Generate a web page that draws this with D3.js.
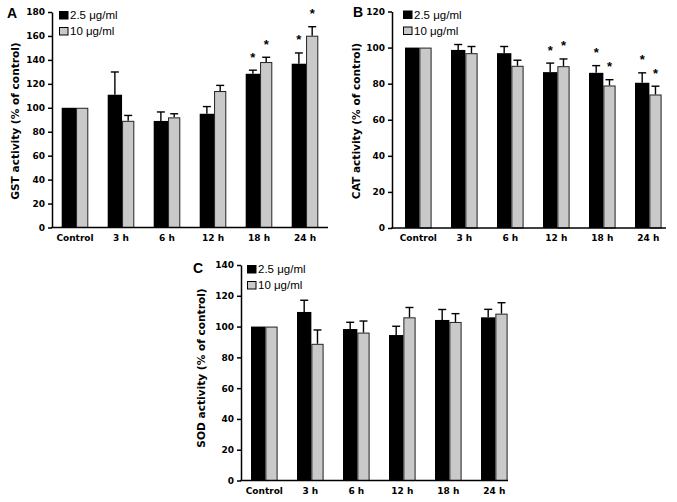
<!DOCTYPE html>
<html><head><meta charset="utf-8">
<script src="https://cdn.jsdelivr.net/npm/d3@7"></script>
<style>body{margin:0;background:#fff}</style>
</head><body>
<svg id="chart" width="677" height="502"></svg>
<script>
const categories = ["Control", "3 h", "6 h", "12 h", "18 h", "24 h"];
const seriesNames = ["2.5 μg/ml", "10 μg/ml"];

const gstLow = [100, 110.9, 89, 95, 128.4, 136.8];
const gstLowErr = [0, 19, 7.5, 6, 3, 9];
const gstHigh = [100, 89.1, 92, 114, 138.2, 160.2];
const gstHighErr = [0, 4.5, 3, 4.7, 4, 7.5];
const gstLowSig = [0, 0, 0, 0, 1, 1];
const gstHighSig = [0, 0, 0, 0, 1, 1];
const gstTicks = [0, 20, 40, 60, 80, 100, 120, 140, 160, 180];

const catLow = [100, 98.7, 96.9, 86.4, 86, 80.5];
const catLowErr = [0, 3, 3.7, 5, 4, 5.5];
const catHigh = [100, 96.9, 89.9, 89.7, 79, 74];
const catHighErr = [0, 3.7, 3.1, 4, 3.2, 4.6];
const catLowSig = [0, 0, 0, 1, 1, 1];
const catHighSig = [0, 0, 0, 1, 1, 1];
const catTicks = [0, 20, 40, 60, 80, 100, 120];

const sodLow = [100, 109.5, 98.4, 94.5, 104.3, 106];
const sodLowErr = [0, 7.6, 4.4, 5.7, 6.8, 5.2];
const sodHigh = [100, 88.8, 96.1, 106, 103, 108.4];
const sodHighErr = [0, 9, 7.5, 6.4, 5.4, 7.1];
const sodLowSig = [0, 0, 0, 0, 0, 0];
const sodHighSig = [0, 0, 0, 0, 0, 0];
const sodTicks = [0, 20, 40, 60, 80, 100, 120, 140];

const panels = [
  {letter: "A", title: "GST activity (% of control)", low: gstLow, lowErr: gstLowErr, high: gstHigh, highErr: gstHighErr,
   lowSig: gstLowSig, highSig: gstHighSig, ticks: gstTicks, yMax: 180,
   axisX: 52, y0: 227.5, yTop: 12, xStart: 61.7, xEnd: 328, labelX: 15, labelY: 121, letterX: 7, letterY: 17.5, legX: 59, legY: 11},
  {letter: "B", title: "CAT activity (% of control)", low: catLow, lowErr: catLowErr, high: catHigh, highErr: catHighErr,
   lowSig: catLowSig, highSig: catHighSig, ticks: catTicks, yMax: 120,
   axisX: 392, y0: 228, yTop: 11.5, xStart: 405, xEnd: 666, labelX: 355.5, labelY: 121, letterX: 353, letterY: 17, legX: 403, legY: 10.5},
  {letter: "C", title: "SOD activity (% of control)", low: sodLow, lowErr: sodLowErr, high: sodHigh, highErr: sodHighErr,
   lowSig: sodLowSig, highSig: sodHighSig, ticks: sodTicks, yMax: 140,
   axisX: 241, y0: 480.5, yTop: 265, xStart: 251, xEnd: 508, labelX: 201, labelY: 368, letterX: 193, letterY: 272.5, legX: 247, legY: 265}
];

const svg = d3.select("#chart");
const GREY = "#c9c9c9";
const tickFont = "'DejaVu Sans', Verdana, sans-serif";
const legFont = "Arial, 'Liberation Sans', sans-serif";

function drawPanel(p) {
  const g = svg.append("g");
  const step = 46, pair = 26.6, blackFrac = 0.54;
  const y = d3.scaleLinear().domain([0, p.yMax]).range([p.y0, p.yTop]);
  const x = d3.scaleBand().domain(categories)
    .range([p.xStart, p.xStart + (categories.length - 1) * step + pair])
    .paddingInner(1 - pair / step).paddingOuter(0);
  const bw = x.bandwidth();
  const sub = d3.scaleLinear().domain([0, 1]).range([0, bw]);

  const series = [
    {vals: p.low, errs: p.lowErr, sig: p.lowSig, off: 0, w: sub(blackFrac), fill: "#000", stroke: "none"},
    {vals: p.high, errs: p.highErr, sig: p.highSig, off: sub(blackFrac), w: sub(1) - sub(blackFrac), fill: GREY, stroke: "#222"}
  ];

  series.forEach(s => {
    const data = categories.map((c, i) => ({c, v: s.vals[i], e: s.errs[i], sig: s.sig[i]}));
    data.filter(d => d.e > 0).forEach(d => {
      const cx = x(d.c) + s.off + s.w / 2;
      g.append("line").attr("x1", cx).attr("x2", cx).attr("y1", y(d.v)).attr("y2", y(d.v + d.e))
        .attr("stroke", "#000").attr("stroke-width", 1.4);
      g.append("line").attr("x1", cx - 4).attr("x2", cx + 4).attr("y1", y(d.v + d.e)).attr("y2", y(d.v + d.e))
        .attr("stroke", "#000").attr("stroke-width", 1.4);
    });
    g.selectAll(null).data(data).enter().append("rect")
      .attr("x", d => x(d.c) + s.off + (s.stroke === "none" ? 0 : 0.5))
      .attr("y", d => y(d.v) + (s.stroke === "none" ? 0 : 0.5))
      .attr("width", s.stroke === "none" ? s.w : s.w - 1)
      .attr("height", d => y(0) - y(d.v) - (s.stroke === "none" ? 0 : 0.5))
      .attr("fill", s.fill)
      .attr("stroke", s.stroke)
      .attr("stroke-width", 1);
    data.filter(d => d.sig).forEach(d => {
      const cx = x(d.c) + s.off + s.w / 2;
      g.append("text").attr("x", cx).attr("y", y(d.v + d.e) - 8.5)
        .attr("text-anchor", "middle").attr("font-family", legFont).attr("font-weight", "bold")
        .attr("font-size", 13).attr("fill", "#000").text("*");
    });
  });

  const ya = g.append("g").attr("transform", `translate(${p.axisX},0)`)
    .call(d3.axisLeft(y).tickValues(p.ticks).tickSize(4).tickPadding(3).tickSizeOuter(0));
  ya.attr("font-family", tickFont).attr("font-size", 9).attr("font-weight", "bold");
  ya.selectAll("path, line").attr("stroke", "#000").attr("stroke-width", 1.5);
  ya.selectAll("text").attr("fill", "#000");

  const xa = g.append("g").attr("transform", `translate(0,${p.y0})`)
    .call(d3.axisBottom(x).tickSize(0).tickPadding(7));
  xa.select(".domain").remove();
  xa.attr("font-family", tickFont).attr("font-size", 9).attr("font-weight", "bold");
  xa.selectAll("text").attr("fill", "#000");
  g.append("line").attr("x1", p.axisX - 0.75).attr("x2", p.xEnd).attr("y1", p.y0).attr("y2", p.y0)
    .attr("stroke", "#000").attr("stroke-width", 1.5);

  g.append("text").attr("transform", `translate(${p.labelX},${p.labelY}) rotate(-90)`)
    .attr("text-anchor", "middle").attr("dominant-baseline", "central")
    .attr("font-family", tickFont).attr("font-weight", "bold").attr("font-size", 10.6)
    .attr("fill", "#000").text(p.title);

  g.append("text").attr("x", p.letterX).attr("y", p.letterY)
    .attr("font-family", legFont).attr("font-weight", "bold").attr("font-size", 14)
    .attr("fill", "#000").text(p.letter);

  seriesNames.forEach((name, i) => {
    const ly = p.legY + i * 16;
    g.append("rect").attr("x", p.legX + 0.5).attr("y", ly + 0.5).attr("width", 8.5).attr("height", 7.5)
      .attr("fill", i === 0 ? "#000" : GREY).attr("stroke", "#000").attr("stroke-width", 1);
    g.append("text").attr("x", p.legX + 11).attr("y", ly + 8)
      .attr("font-family", legFont).attr("font-weight", "normal").attr("font-size", 11.5)
      .attr("fill", "#000").text(name);
  });
}

panels.forEach(drawPanel);
</script>
</body></html>
